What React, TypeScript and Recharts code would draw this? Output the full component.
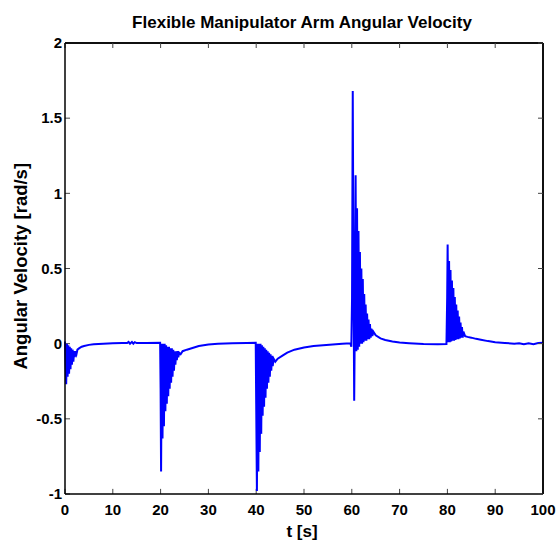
import React from "react";
import { LineChart, Line, XAxis, YAxis, ReferenceLine } from "recharts";

// [t (s), angular velocity (rad/s)], one array per motion segment
const seg0: [number, number][] = [
  [0, 0.015], [0.1, -0.12], [0.25, -0.27], [0.4, 0.0], [0.55, -0.22], [0.7, -0.01],
  [0.85, -0.2], [1.0, -0.02], [1.15, -0.17], [1.3, -0.03], [1.45, -0.14], [1.6, -0.04],
  [1.75, -0.12], [1.9, -0.05], [2.05, -0.09], [2.2, -0.05], [2.4, -0.07], [2.6, -0.04],
  [3.0, -0.03], [3.5, -0.02], [4, -0.015], [5, -0.008], [6, -0.004], [8, 0.0],
  [10, 0.003], [12, 0.004], [13, 0.004], [13.3, 0.012], [13.6, 0.0], [14, 0.012],
  [14.3, 0.0], [14.6, 0.01], [15, 0.004], [17, 0.005], [19.9, 0.006],
];
const seg20: [number, number][] = [
  [20.0, -0.3], [20.1, -0.85], [20.25, 0.0], [20.4, -0.63], [20.55, 0.0], [20.7, -0.55],
  [20.85, 0.0], [21.0, -0.45], [21.15, -0.01], [21.3, -0.4], [21.45, -0.02], [21.6, -0.35],
  [21.75, -0.02], [21.9, -0.3], [22.05, -0.03], [22.2, -0.26], [22.35, -0.03], [22.5, -0.22],
  [22.65, -0.04], [22.8, -0.18], [22.95, -0.05], [23.1, -0.14], [23.25, -0.05], [23.4, -0.11],
  [23.55, -0.05], [23.7, -0.09], [23.9, -0.06], [24.2, -0.07], [24.6, -0.05], [25.5, -0.04],
  [26.5, -0.03], [28, -0.015], [30, -0.005], [32, 0.0], [35, 0.003], [38, 0.005], [39.9, 0.006],
];
const seg40: [number, number][] = [
  [40.0, -0.4], [40.15, -0.98], [40.3, 0.0], [40.45, -0.85], [40.6, 0.0], [40.75, -0.72],
  [40.9, 0.0], [41.05, -0.6], [41.2, -0.01], [41.35, -0.48], [41.5, -0.02], [41.65, -0.42],
  [41.8, -0.03], [41.95, -0.36], [42.1, -0.04], [42.25, -0.3], [42.4, -0.05], [42.55, -0.26],
  [42.7, -0.06], [42.85, -0.22], [43.0, -0.07], [43.15, -0.18], [43.3, -0.08], [43.45, -0.15],
  [43.65, -0.1], [44.0, -0.12], [44.5, -0.1], [45.5, -0.08], [46.5, -0.06], [48, -0.04],
  [50, -0.025], [52, -0.015], [54, -0.01], [56, -0.005], [58, 0.0], [59.7, 0.003],
];
const seg60: [number, number][] = [
  [59.9, -0.02], [60.05, 0.3], [60.2, 1.68], [60.35, 0.5], [60.5, -0.38], [60.65, 0.2],
  [60.8, 1.12], [60.95, -0.05], [61.1, 0.9], [61.25, -0.04], [61.4, 0.75], [61.55, -0.02],
  [61.7, 0.61], [61.85, 0.0], [62.0, 0.5], [62.15, 0.0], [62.3, 0.43], [62.45, 0.01],
  [62.6, 0.33], [62.75, 0.02], [62.9, 0.26], [63.05, 0.02], [63.2, 0.2], [63.35, 0.03],
  [63.5, 0.16], [63.65, 0.03], [63.8, 0.13], [63.95, 0.04], [64.1, 0.1], [64.3, 0.05],
  [64.5, 0.08], [65, 0.055], [66, 0.035], [67, 0.025], [68.5, 0.015], [70, 0.008],
  [72, 0.003], [75, -0.003], [78, -0.004], [79.8, -0.003],
];
const seg80: [number, number][] = [
  [79.95, 0.3], [80.05, 0.66], [80.2, 0.01], [80.35, 0.55], [80.5, 0.01], [80.65, 0.49],
  [80.8, 0.015], [80.95, 0.42], [81.1, 0.02], [81.25, 0.37], [81.4, 0.02], [81.55, 0.31],
  [81.7, 0.025], [81.85, 0.26], [82.0, 0.03], [82.15, 0.22], [82.3, 0.03], [82.45, 0.18],
  [82.6, 0.035], [82.75, 0.14], [82.9, 0.04], [83.05, 0.11], [83.2, 0.04], [83.35, 0.08],
  [83.7, 0.05], [84.2, 0.045], [85, 0.04], [86, 0.032], [87, 0.026], [88.5, 0.017],
  [90, 0.01], [92, 0.005], [94, 0.0], [95, 0.003], [96, -0.004], [97, 0.002],
  [98, -0.003], [99, 0.005], [100, 0.006],
];

const xTicks = [0, 10, 20, 30, 40, 50, 60, 70, 80, 90, 100];
const yTicks = [-1, -0.5, 0, 0.5, 1, 1.5, 2];
const X_MIN = 0;
const X_MAX = 100;
const Y_MIN = -1;
const Y_MAX = 2;

const TITLE = "Flexible Manipulator Arm Angular Velocity";
const X_LABEL = "t [s]";
const Y_LABEL = "Angular Velocity [rad/s]";

const data = [...seg0, ...seg20, ...seg40, ...seg60, ...seg80].map(([t, v]) => ({ t, v }));

const FONT = "'Liberation Sans', Arial, Helvetica, sans-serif";
const W = 556;
const H = 542;
// inward tick length expressed in axis units (~5 px)
const TICK_DX = 1.05;
const TICK_DY = 0.034;
const TICK_COLOR = "#444";

const tickText = { fontFamily: FONT, fontSize: 15, fontWeight: 700, fill: "#000" };
const frame = { stroke: "#000", strokeWidth: 1.5 };
const blank = () => "";

const labelBase: React.CSSProperties = {
  position: "absolute",
  fontFamily: FONT,
  fontWeight: 700,
  color: "#000",
  textAlign: "center",
  whiteSpace: "nowrap",
};

export default function App() {
  return (
    <div style={{ position: "absolute", left: 0, top: 0, width: W, height: H, background: "#fff" }}>
      <LineChart width={W} height={H} data={data} margin={{ top: 43, right: 13, bottom: 0, left: 5 }}>
        <XAxis
          dataKey="t" type="number" domain={[X_MIN, X_MAX]} ticks={xTicks} interval={0}
          height={48} tickSize={0} tickMargin={10} tickLine={false}
          tick={tickText} axisLine={frame}
        />
        <XAxis
          xAxisId="top" orientation="top" mirror dataKey="t" type="number" domain={[X_MIN, X_MAX]}
          ticks={xTicks} interval={0} height={1} tickSize={5} tickFormatter={blank}
          tickLine={{ stroke: TICK_COLOR }} axisLine={frame}
        />
        <YAxis
          dataKey="v" type="number" domain={[Y_MIN, Y_MAX]} ticks={yTicks} interval={0}
          width={60} tickSize={0} tickMargin={3} tickLine={false}
          tick={tickText} axisLine={frame}
        />
        <YAxis
          yAxisId="r" orientation="right" mirror dataKey="v" type="number" domain={[Y_MIN, Y_MAX]}
          ticks={yTicks} interval={0} width={1} tickSize={5} tickFormatter={blank}
          tickLine={{ stroke: TICK_COLOR }} axisLine={frame}
        />
        <ReferenceLine y={Y_MAX} ifOverflow="visible" stroke="#000" strokeWidth={1.5} />
        <ReferenceLine x={X_MAX} ifOverflow="visible" stroke="#000" strokeWidth={1.5} />
        {xTicks.map((t) => (
          <ReferenceLine key={`b${t}`} ifOverflow="visible" segment={[{ x: t, y: Y_MIN }, { x: t, y: Y_MIN + TICK_DY }]} stroke={TICK_COLOR} strokeWidth={1} />
        ))}
        {yTicks.map((v) => (
          <ReferenceLine key={`l${v}`} ifOverflow="visible" segment={[{ x: X_MIN, y: v }, { x: X_MIN + TICK_DX, y: v }]} stroke={TICK_COLOR} strokeWidth={1} />
        ))}
        <Line
          xAxisId="top" yAxisId="r" dataKey="v" type="linear" stroke="none" strokeWidth={0}
          dot={false} activeDot={false} legendType="none" isAnimationActive={false}
        />
        <Line
          dataKey="v" type="linear" stroke="#0000ff" strokeWidth={2}
          dot={false} isAnimationActive={false}
        />
      </LineChart>
      <div style={{ ...labelBase, left: 0, top: 13.6, width: 604, fontSize: 17, lineHeight: "17px" }}>{TITLE}</div>
      <div style={{ ...labelBase, left: 202, top: 522.6, width: 200, fontSize: 17, lineHeight: "17px" }}>{X_LABEL}</div>
      <div
        style={{
          ...labelBase,
          left: 20.6 - 150,
          top: 266 - 9.25,
          width: 300,
          height: 18.5,
          fontSize: 18.5,
          lineHeight: "18.5px",
          transform: "rotate(-90deg)",
          transformOrigin: "50% 50%",
        }}
      >
        {Y_LABEL}
      </div>
    </div>
  );
}
